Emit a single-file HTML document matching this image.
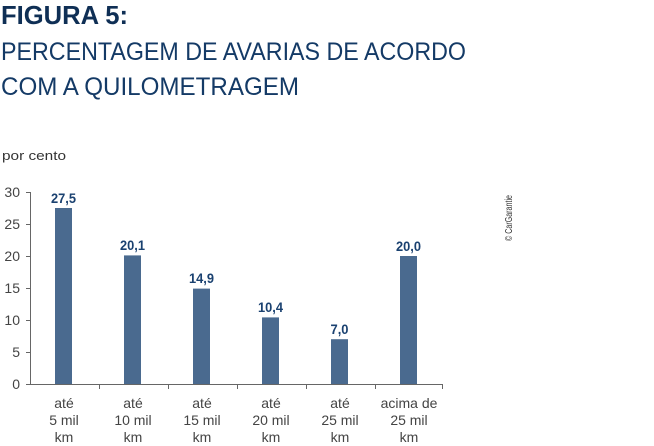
<!DOCTYPE html>
<html><head><meta charset="utf-8"><style>
html,body{margin:0;padding:0;background:#fff;}
svg{display:block;font-family:"Liberation Sans",sans-serif;}
</style></head><body>
<svg width="654" height="446" viewBox="0 0 654 446" xmlns="http://www.w3.org/2000/svg">
<text x="1" y="24" font-size="26" font-weight="bold" fill="#0f2f55" textLength="127" lengthAdjust="spacingAndGlyphs">FIGURA 5:</text>
<text x="1" y="60" font-size="25" fill="#143a66" textLength="465" lengthAdjust="spacingAndGlyphs">PERCENTAGEM DE AVARIAS DE ACORDO</text>
<text x="1" y="95" font-size="25" fill="#143a66" textLength="298" lengthAdjust="spacingAndGlyphs">COM A QUILOMETRAGEM</text>
<text x="2" y="160" font-size="13" fill="#333" textLength="64" lengthAdjust="spacingAndGlyphs">por cento</text>
<text transform="translate(512,241) rotate(-90)" font-size="10" fill="#333" textLength="46" lengthAdjust="spacingAndGlyphs">© CarGarantie</text>
<g stroke="#666" stroke-width="1">
<line x1="30.5" y1="192" x2="30.5" y2="384"/>
<line x1="30" y1="384.5" x2="443" y2="384.5"/>
<line x1="26" y1="192.5" x2="30" y2="192.5"/>
<line x1="26" y1="224.5" x2="30" y2="224.5"/>
<line x1="26" y1="256.5" x2="30" y2="256.5"/>
<line x1="26" y1="288.5" x2="30" y2="288.5"/>
<line x1="26" y1="320.5" x2="30" y2="320.5"/>
<line x1="26" y1="352.5" x2="30" y2="352.5"/>
<line x1="26" y1="384.5" x2="30" y2="384.5"/>
<line x1="99.5" y1="384" x2="99.5" y2="389"/>
<line x1="168.5" y1="384" x2="168.5" y2="389"/>
<line x1="237.5" y1="384" x2="237.5" y2="389"/>
<line x1="306.5" y1="384" x2="306.5" y2="389"/>
<line x1="375.5" y1="384" x2="375.5" y2="389"/>
<line x1="442.5" y1="384" x2="442.5" y2="389"/>
</g>
<g font-size="14" fill="#444" text-anchor="end">
<text x="20" y="197">30</text><text x="20" y="229">25</text><text x="20" y="261">20</text>
<text x="20" y="293">15</text><text x="20" y="325">10</text><text x="20" y="357">5</text><text x="20" y="389">0</text>
</g>
<g fill="#4a6a8f">
<rect x="55" y="208" width="17" height="176"/>
<rect x="124" y="255.4" width="17" height="128.6"/>
<rect x="193" y="288.6" width="17" height="95.4"/>
<rect x="262" y="317.4" width="17" height="66.6"/>
<rect x="331" y="339.2" width="17" height="44.8"/>
<rect x="400" y="256" width="17" height="128"/>
</g>
<g font-size="14" font-weight="bold" fill="#1a4170" text-anchor="middle">
<text x="63.5" y="203" textLength="25" lengthAdjust="spacingAndGlyphs">27,5</text>
<text x="132.5" y="250" textLength="25" lengthAdjust="spacingAndGlyphs">20,1</text>
<text x="201.5" y="283" textLength="25" lengthAdjust="spacingAndGlyphs">14,9</text>
<text x="270.5" y="312" textLength="25" lengthAdjust="spacingAndGlyphs">10,4</text>
<text x="339.5" y="334" textLength="18" lengthAdjust="spacingAndGlyphs">7,0</text>
<text x="408.5" y="251" textLength="25" lengthAdjust="spacingAndGlyphs">20,0</text>
</g>
<g font-size="14" fill="#444" text-anchor="middle">
<text x="64" y="408">até</text><text x="64" y="425">5 mil</text><text x="64" y="442">km</text>
<text x="133" y="408">até</text><text x="133" y="425">10 mil</text><text x="133" y="442">km</text>
<text x="202" y="408">até</text><text x="202" y="425">15 mil</text><text x="202" y="442">km</text>
<text x="271" y="408">até</text><text x="271" y="425">20 mil</text><text x="271" y="442">km</text>
<text x="340" y="408">até</text><text x="340" y="425">25 mil</text><text x="340" y="442">km</text>
<text x="409" y="408">acima de</text><text x="409" y="425">25 mil</text><text x="409" y="442">km</text>
</g>
</svg>
</body></html>
